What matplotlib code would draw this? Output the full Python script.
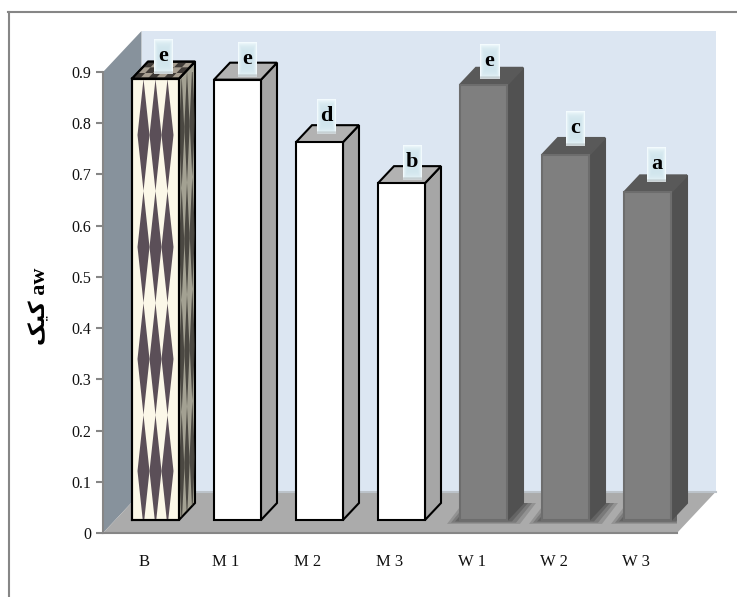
import numpy as np
import matplotlib
matplotlib.use('Agg')
import matplotlib.pyplot as plt
from matplotlib.lines import Line2D

categories = ['B', 'M 1', 'M 2', 'M 3', 'W 1', 'W 2', 'W 3']
values = [0.887, 0.885, 0.763, 0.683, 0.875, 0.738, 0.665]
letters = ['e', 'e', 'd', 'b', 'e', 'c', 'a']
y_ticks = [0, 0.1, 0.2, 0.3, 0.4, 0.5, 0.6, 0.7, 0.8, 0.9]
y_tick_labels = ['0', '0.1', '0.2', '0.3', '0.4', '0.5', '0.6', '0.7', '0.8', '0.9']

# layout of the labels, pixels from the bar centre / bar top
label_dx = [7.5, 9.5, 7, 10.5, 6, 9.5, 9]
label_gap = [5, 3, 8, 3, 6, 9, 10]

W, H = 737, 597
UX = 1 / 82         # one pixel in x data units
UY = 0.9 / 461      # one pixel in y data units

plt.rcParams['font.family'] = ['Liberation Serif', 'DejaVu Sans']

fig = plt.figure(figsize=(W / 100, H / 100), dpi=100)
ax = fig.add_axes([103 / W, (H - 533) / H, 574 / W, 461 / H])
ax.patch.set_visible(False)

# outer frame, only top and left are in the picture
fig.add_artist(Line2D([8.5 / W, 8.5 / W], [0, 1 - 12 / H], color='#868686', lw=1.5))
fig.add_artist(Line2D([8 / W, 1], [1 - 12 / H, 1 - 12 / H], color='#868686', lw=1.5))

x0, x1 = -0.5, 6.5
wx, wy = 38.5 * UX, 41 * UY
ax.fill([x0 + wx, x1 + wx, x1 + wx, x0 + wx], [wy, wy, 0.9 + wy, 0.9 + wy],
        color='#dce6f2', lw=0, clip_on=False, zorder=1)
ax.fill([x0, x0 + wx, x0 + wx, x0], [0, wy, 0.9 + wy, 0.9],
        color='#87929c', lw=0, clip_on=False, zorder=1.1)
ax.fill([x0, x1, x1 + wx, x0 + wx], [0, 0, wy, wy],
        color='#ababab', lw=0, clip_on=False, zorder=1.2)
ax.plot([x0 + wx, x1 + wx], [wy, wy], color='#bcc3ca', lw=1.5, clip_on=False, zorder=1.3)

shift = 11.5 * UX
base = 13 * UY
bw = 47 * UX
dx, dy = 16 * UX, 17 * UY
xpos = np.arange(len(categories)) + shift
vals = np.array(values)

# soft shadows under the W bars
for i in range(4, 7):
    for grow, a in [(13, 0.22), (9, 0.28), (5, 0.35)]:
        gx, gy = grow * UX, grow * UY
        l, r = xpos[i] - bw / 2 - gx, xpos[i] + bw / 2 + gx
        ax.fill([l, r, r + dx, l + dx], [base - gy * 0.3, base - gy * 0.3, base + dy, base + dy],
                color='#3c3c3c', alpha=a, lw=0, zorder=1.5)

face_c = ['#fbf8e8', 'white', 'white', 'white', '#7f7f7f', '#7f7f7f', '#7f7f7f']
top_c = ['#a89f92', '#b2b2b2', '#b2b2b2', '#b2b2b2', '#595959', '#595959', '#595959']
side_c = ['#a3a192', '#a6a6a6', '#a6a6a6', '#a6a6a6', '#515151', '#515151', '#515151']
edge_c = ['black', 'black', 'black', 'black', '#6d6d6d', '#6d6d6d', '#6d6d6d']

bars = ax.bar(xpos, vals - base, bw, bottom=base, color=face_c, edgecolor=edge_c, linewidth=1.5, zorder=3)
sides = []
for i, (xc, v) in enumerate(zip(xpos, vals)):
    r = xc + bw / 2
    l = xc - bw / 2
    s, = ax.fill([r, r + dx, r + dx, r], [base, base + dy, v + dy, v],
                 facecolor=side_c[i], edgecolor=edge_c[i] if i < 4 else side_c[i], lw=1.5,
                 clip_on=False, zorder=2.8)
    ax.fill([l, r, r + dx, l + dx], [v, v, v + dy, v + dy],
            facecolor=top_c[i], edgecolor=edge_c[i] if i < 4 else top_c[i], lw=1.5,
            clip_on=False, zorder=2.9)
    sides.append(s)

# diamond texture of bar B
dark = '#5b4f58'
xc, v = xpos[0], vals[0]
period, half_w = 112 * UY, 6 * UX
centres_y = [(533 - yy) * UY for yy in (23, 135, 247, 359, 471, 583)]
for col in (-12, 0, 12):
    for cy in centres_y:
        cx = xc + col * UX
        d, = ax.fill([cx - half_w, cx, cx + half_w, cx], [cy, cy + period / 2, cy, cy - period / 2],
                     color=dark, lw=0, zorder=3.1)
        d.set_clip_path(bars[0])
# same diamonds squeezed on the side face
for cy in centres_y:
    for k in (0.17, 0.5, 0.83):
        sx = xc + bw / 2 + dx * k
        sy = cy + dy * k
        s, = ax.fill([sx - 2.7 * UX, sx, sx + 2.7 * UX, sx], [sy, sy + period / 2, sy, sy - period / 2],
                     color='#35322e', alpha=0.8, lw=0, zorder=2.85)
        s.set_clip_path(sides[0])
# redraw the edges of bar B over the texture
ax.plot([xc - bw / 2, xc - bw / 2, xc + bw / 2, xc + bw / 2, xc - bw / 2],
        [base, v, v, base, base], color='black', lw=1.5, clip_on=False, zorder=3.2)

# checks on the top face of bar B
for a in range(6):
    for b in range(3):
        if (a + b) % 2 == 0:
            u0, u1 = a / 6, (a + 1) / 6
            w0, w1 = b / 3, (b + 1) / 3
            lx = xc - bw / 2
            cxs = [lx + bw * u + dx * w for u, w in ((u0, w0), (u1, w0), (u1, w1), (u0, w1))]
            cys = [v + dy * w for w in (w0, w0, w1, w1)]
            ax.fill(cxs, cys, color='#3f3a36', lw=0, clip_on=False, zorder=2.95)
ax.plot([xc - bw / 2, xc + bw / 2, xc + bw / 2 + dx, xc - bw / 2 + dx, xc - bw / 2],
        [v, v, v + dy, v + dy, v], color='black', lw=1.5, clip_on=False, zorder=3.2)

# data labels: pale tiles with a soft gradient
gy_, gx_ = np.mgrid[-1:1:40j, -1:1:24j]
fade = np.clip(np.maximum(np.abs(gx_) ** 5, np.abs(gy_) ** 5), 0, 1)
tile = np.zeros(gx_.shape + (3,))
for ch, (inner, outer) in enumerate(zip((0.82, 0.90, 0.93), (0.96, 0.99, 1.0))):
    tile[..., ch] = inner + (outer - inner) * fade
tile[-3:, :, :] *= 0.85

for i, (xc, v, let) in enumerate(zip(xpos, vals, letters)):
    cx = xc + label_dx[i] * UX
    b0 = v + label_gap[i] * UY
    ax.imshow(tile, extent=[cx - 9.5 * UX, cx + 9.5 * UX, b0, b0 + 35 * UY], aspect='auto',
              clip_on=False, zorder=5, interpolation='bilinear')
    ax.text(cx, b0 + 18 * UY, let, ha='center', va='center', fontsize=16, fontweight='bold',
            color='black', zorder=6, clip_on=False)

ax.set_xlim(x0, x1)
ax.set_ylim(0, 0.9)
ax.set_xticks(np.arange(len(categories)))
ax.set_xticklabels(categories, fontsize=12, color='#111111')
ax.set_yticks(y_ticks)
ax.set_yticklabels(y_tick_labels, fontsize=11.5, color='#111111')
ax.tick_params(axis='x', length=0, pad=15)
ax.tick_params(axis='y', length=5, width=1.5, color='#868686', pad=3.5)
for name in ('top', 'right'):
    ax.spines[name].set_visible(False)
for name in ('left', 'bottom'):
    ax.spines[name].set_color('#868686')
    ax.spines[name].set_linewidth(1.5)

# Persian word in its joined letter forms, matplotlib does not shape it
fig.text(40 / W, 1 - 306 / H, '\ufb8f\ufbff\ufb90 aw', rotation=90, ha='center', va='center',
         fontsize=16, fontweight='bold', color='black')

plt.savefig('out.png', dpi=100)
